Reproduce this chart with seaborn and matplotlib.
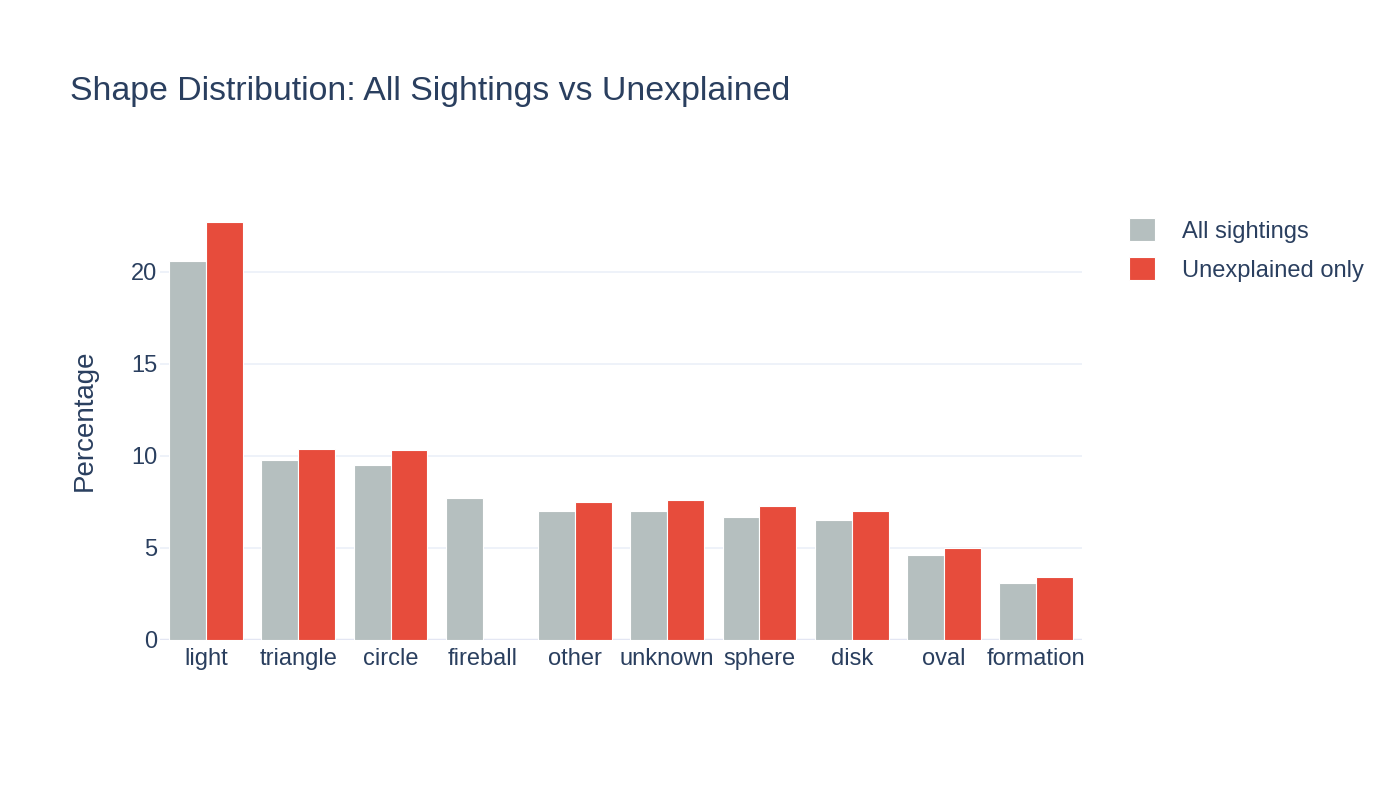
import numpy as np
import pandas as pd
import matplotlib
matplotlib.use('Agg')
import matplotlib.pyplot as plt
import seaborn as sns

#%% DATA
shapes = ['light', 'triangle', 'circle', 'fireball', 'other',
          'unknown', 'sphere', 'disk', 'oval', 'formation']
all_pct = [20.6, 9.8, 9.5, 7.7, 7.0, 7.0, 6.7, 6.5, 4.6, 3.1]
unexplained_pct = [22.7, 10.4, 10.3, 0.0, 7.5, 7.6, 7.3, 7.0, 5.0, 3.4]
series = ['All sightings', 'Unexplained only']

df = pd.DataFrame({
    'shape': shapes * 2,
    'pct': all_pct + unexplained_pct,
    'group': [series[0]] * len(shapes) + [series[1]] * len(shapes),
})

#%% STYLE
sns.set_style('white')
plt.rcParams['font.family'] = ['Liberation Sans', 'DejaVu Sans']
text_col = '#2a3f5f'
grid_col = '#ebf0f8'
palette = {series[0]: '#b5bfbf', series[1]: '#e74c3c'}

fig = plt.figure(figsize=(14, 8), dpi=100)
ax = fig.add_axes([0.1143, 0.2, 0.773 - 0.1143, 0.55])

sns.barplot(data=df, x='shape', y='pct', hue='group', palette=palette,
            order=shapes, hue_order=series, width=0.8, dodge=True,
            edgecolor='white', linewidth=0.8, saturation=1, ax=ax, zorder=3)

ax.set_ylim(0, 23.9)
ax.set_xlim(-0.5, len(shapes) - 0.5)
ax.set_yticks([0, 5, 10, 15, 20])
ax.yaxis.grid(True, color=grid_col, linewidth=1.2, zorder=0)
ax.axhline(0, color='#e3e6f3', linewidth=2.5, zorder=2)
for s in ax.spines.values():
    s.set_visible(False)
ax.tick_params(axis='both', length=0, labelsize=17, labelcolor=text_col)
ax.tick_params(axis='x', pad=6)
ax.tick_params(axis='y', pad=2)
ax.set_xlabel('')
ax.set_ylabel('Percentage', fontsize=20, color=text_col, labelpad=24)

fig.text(0.05, 0.886, 'Shape Distribution: All Sightings vs Unexplained',
         fontsize=24.4, color=text_col, va='center', ha='left')

leg = ax.legend(loc='upper left', bbox_to_anchor=(1.04, 0.98), frameon=False,
                fontsize=17, labelcolor=text_col, handlelength=1.1,
                handleheight=1.1, handletextpad=1.15, labelspacing=0.62,
                borderaxespad=0)

fig.savefig('out.png', dpi=100)
